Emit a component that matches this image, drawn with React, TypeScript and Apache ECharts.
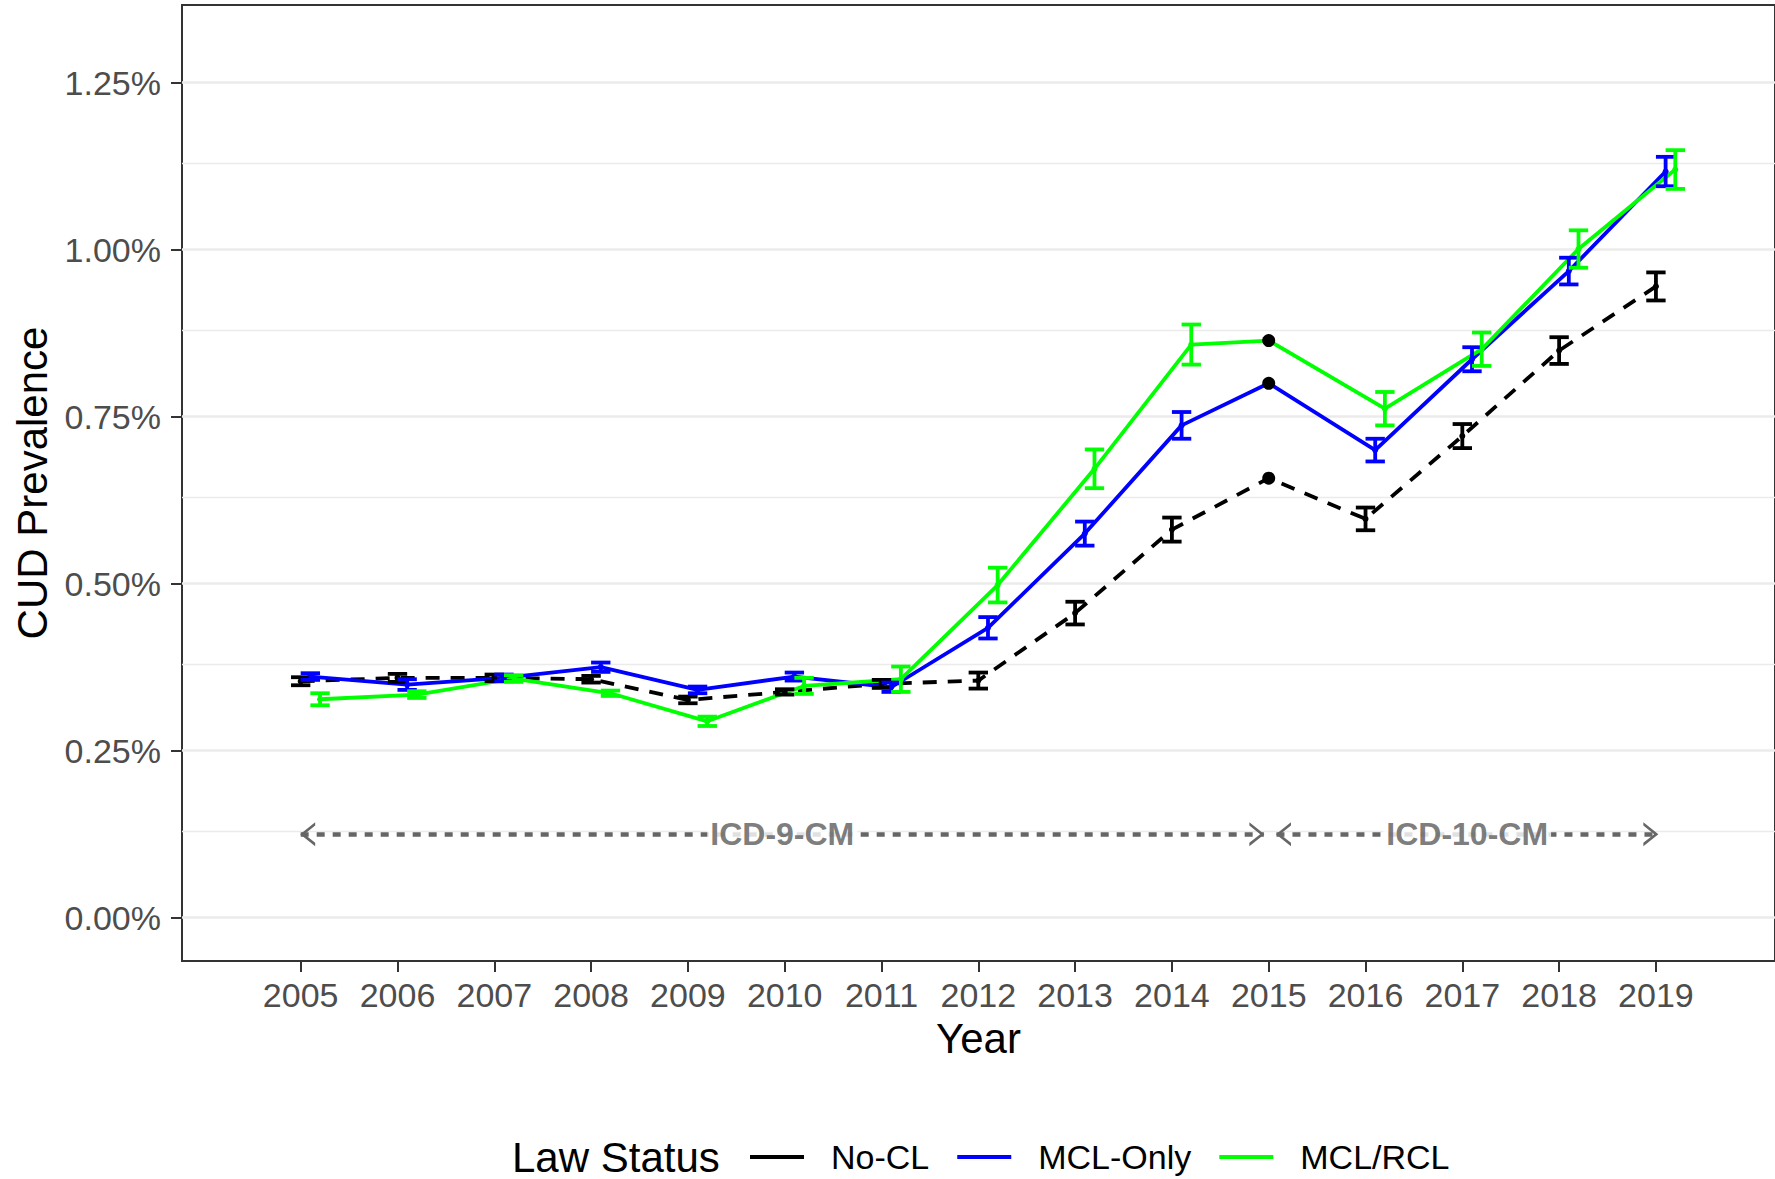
import React, { useEffect, useRef } from "react";
import * as echarts from "echarts";

// Annual cannabis use disorder prevalence (%) by state cannabis law status
const years = [2005, 2006, 2007, 2008, 2009, 2010, 2011, 2012, 2013, 2014, 2015, 2016, 2017, 2018, 2019];
const noCL = [0.354, 0.359, 0.359, 0.357, 0.326, 0.338, 0.35, 0.355, 0.456, 0.581, 0.658, 0.597, 0.721, 0.849, 0.945];
const mclOnly = [0.361, 0.349, 0.359, 0.375, 0.341, 0.361, 0.345, 0.434, 0.575, 0.737, 0.8, 0.7, 0.836, 0.968, 1.117];
const mclRcl = [0.327, 0.334, 0.358, 0.336, 0.294, 0.347, 0.357, 0.498, 0.672, 0.858, 0.864, 0.762, 0.851, 1.001, 1.12];

// Half-width of the 95% confidence interval (no interval in 2015, the coding transition year)
const noCLHalf = [0.006, 0.006, 0.005, 0.005, 0.005, 0.004, 0.006, 0.012, 0.017, 0.018, null, 0.017, 0.018, 0.02, 0.021];
const mclOnlyHalf = [0.005, 0.008, 0.005, 0.007, 0.005, 0.006, 0.007, 0.016, 0.018, 0.02, null, 0.017, 0.018, 0.02, 0.022];
const mclRclHalf = [0.009, 0.005, 0.005, 0.004, 0.007, 0.012, 0.019, 0.026, 0.029, 0.03, null, 0.025, 0.025, 0.028, 0.029];

const groupNames = ["No-CL", "MCL-Only", "MCL/RCL"];
const groupDodge = [0, 0.1, 0.2];

// Axis breaks
const yMajor = [0, 0.25, 0.5, 0.75, 1.0, 1.25];
const yMinor = [0.125, 0.375, 0.625, 0.875, 1.125];

// Diagnostic coding periods
const icdLabels = ["ICD-9-CM", "ICD-10-CM"];
const icdStart = [2005, 2015.08];
const icdEnd = [2014.95, 2019.02];
const icdLevel = 0.125;

const FONT = "'Liberation Sans', Arial, Helvetica, sans-serif";
const CHEVRON = "path://M0,10 L5,0 L10,10 L8.6,10 L5,2.8 L1.4,10 Z";

export default function App() {
  const ref = useRef<HTMLDivElement>(null);

  useEffect(() => {
    if (!ref.current) return;
    const chart = echarts.init(ref.current, null, { renderer: "svg" });

    const groups = [
      { name: groupNames[0], values: noCL, half: noCLHalf, color: "#000000", dash: [14, 11] as any, dodge: groupDodge[0] },
      { name: groupNames[1], values: mclOnly, half: mclOnlyHalf, color: "#0000FF", dash: "solid" as any, dodge: groupDodge[1] },
      { name: groupNames[2], values: mclRcl, half: mclRclHalf, color: "#00FF00", dash: "solid" as any, dodge: groupDodge[2] },
    ];

    const series: any[] = [];

    // Background grid lines
    series.push({
      type: "line",
      name: "grid",
      data: [],
      silent: true,
      z: 0,
      markLine: {
        silent: true,
        z: 0,
        symbol: "none",
        label: { show: false },
        animation: false,
        data: [
          ...yMinor.map((v) => ({ yAxis: v, lineStyle: { color: "#EBEBEB", width: 1.3, type: "solid" } })),
          ...yMajor.map((v) => ({ yAxis: v, lineStyle: { color: "#EBEBEB", width: 2.6, type: "solid" } })),
        ],
      },
    });

    groups.forEach((g) => {
      const pts = years.map((yr, i) => {
        const hasCI = g.half[i] != null;
        const x = yr + (hasCI ? g.dodge : 0);
        if (!hasCI) {
          return { value: [x, g.values[i]], symbolSize: 13, itemStyle: { color: "#000000" } };
        }
        return { value: [x, g.values[i]] };
      });
      series.push({
        type: "line",
        name: g.name,
        data: pts,
        z: 2,
        color: g.color,
        symbol: "circle",
        symbolSize: 6,
        showSymbol: true,
        itemStyle: { color: g.color },
        lineStyle: { color: g.color, width: 3.8, type: g.dash },
        emphasis: { disabled: true },
      });
    });

    groups.forEach((g) => {
      const bars = years
        .map((yr, i) => (g.half[i] != null ? [yr + g.dodge, g.values[i] - (g.half[i] as number), g.values[i] + (g.half[i] as number)] : null))
        .filter((d) => d != null);
      series.push({
        type: "custom",
        name: g.name + " CI",
        data: bars,
        z: 3,
        encode: { x: 0, y: [1, 2] },
        silent: true,
        renderItem: (_params: any, api: any) => {
          const x = api.value(0);
          const lo = api.coord([x, api.value(1)]);
          const hi = api.coord([x, api.value(2)]);
          const half = api.coord([x + 0.1, api.value(1)])[0] - lo[0];
          const style = { stroke: g.color, lineWidth: 3.8, fill: "none" };
          return {
            type: "group",
            children: [
              { type: "line", shape: { x1: lo[0], y1: lo[1], x2: hi[0], y2: hi[1] }, style },
              { type: "line", shape: { x1: lo[0] - half, y1: lo[1], x2: lo[0] + half, y2: lo[1] }, style },
              { type: "line", shape: { x1: hi[0] - half, y1: hi[1], x2: hi[0] + half, y2: hi[1] }, style },
            ],
          };
        },
      });
    });

    // Coding-period arrows and labels
    series.push({
      type: "scatter",
      name: "icd",
      z: 4,
      silent: true,
      symbolSize: 1,
      itemStyle: { color: "rgba(0,0,0,0)" },
      data: icdLabels.map((lab, i) => [(icdStart[i] + icdEnd[i]) / 2, icdLevel, lab]),
      label: {
        show: true,
        position: "inside",
        formatter: (p: any) => p.value[2],
        color: "#5A5A5A",
        fontFamily: FONT,
        fontWeight: "bold",
        fontSize: 32,
        lineHeight: 32,
        backgroundColor: "#ffffff",
        padding: [0, 3],
      },
      markLine: {
        silent: true,
        z: 1,
        symbol: [CHEVRON, CHEVRON],
        symbolSize: [24, 15],
        symbolOffset: [
          [0, 7],
          [0, 7],
        ],
        label: { show: false },
        lineStyle: { color: "#666666", width: 4.5, type: [8, 8] },
        data: icdLabels.map((_, i) => [
          { coord: [icdStart[i], icdLevel] },
          { coord: [icdEnd[i], icdLevel] },
        ]),
      },
    });

    chart.setOption({
      animation: false,
      backgroundColor: "#ffffff",
      textStyle: { fontFamily: FONT },
      grid: {
        left: 182,
        top: 5,
        right: -4,
        bottom: 218,
        show: true,
        borderColor: "#333333",
        borderWidth: 2,
        backgroundColor: "#ffffff",
        containLabel: false,
      },
      xAxis: {
        type: "value",
        min: 2003.774,
        max: 2020.23,
        name: "Year",
        nameLocation: "middle",
        nameGap: 56,
        nameTextStyle: { color: "#000000", fontSize: 42, fontFamily: FONT },
        axisLine: { show: false, onZero: false },
        axisTick: { show: true, length: 11, customValues: years, lineStyle: { color: "#333333", width: 2 } },
        axisLabel: {
          customValues: years,
          formatter: (v: number) => String(v),
          color: "#4D4D4D",
          fontSize: 34,
          margin: 17,
          fontFamily: FONT,
        },
        splitLine: { show: false },
      },
      yAxis: {
        type: "value",
        min: -0.0648,
        max: 1.3663,
        name: "CUD Prevalence",
        nameLocation: "middle",
        nameRotate: 90,
        nameGap: 128,
        nameTextStyle: { color: "#000000", fontSize: 42, fontFamily: FONT },
        axisLine: { show: false, onZero: false },
        axisTick: { show: true, length: 11, customValues: yMajor, lineStyle: { color: "#333333", width: 2 } },
        axisLabel: {
          customValues: yMajor,
          formatter: (v: number) => v.toFixed(2) + "%",
          color: "#4D4D4D",
          fontSize: 34,
          margin: 21,
          fontFamily: FONT,
        },
        splitLine: { show: false },
        minorSplitLine: { show: false },
      },
      legend: {
        data: groupNames,
        left: 745,
        top: 1135,
        icon: "rect",
        itemWidth: 54,
        itemHeight: 4,
        itemGap: 28,
        itemStyle: { borderWidth: 0 },
        selectedMode: false,
        textStyle: { color: "#000000", fontSize: 34, lineHeight: 34, fontFamily: FONT, padding: [0, 0, 0, 22] },
      },
      graphic: [
        {
          type: "text",
          left: 512,
          top: 1136,
          style: { text: "Law Status", fill: "#000000", fontSize: 42, lineHeight: 42, fontFamily: FONT },
        },
      ],
      series,
    });

    return () => chart.dispose();
  }, []);

  return (
    <div
      ref={ref}
      style={{ position: "absolute", left: 0, top: 0, width: 1775, height: 1179, background: "#ffffff" }}
    />
  );
}
